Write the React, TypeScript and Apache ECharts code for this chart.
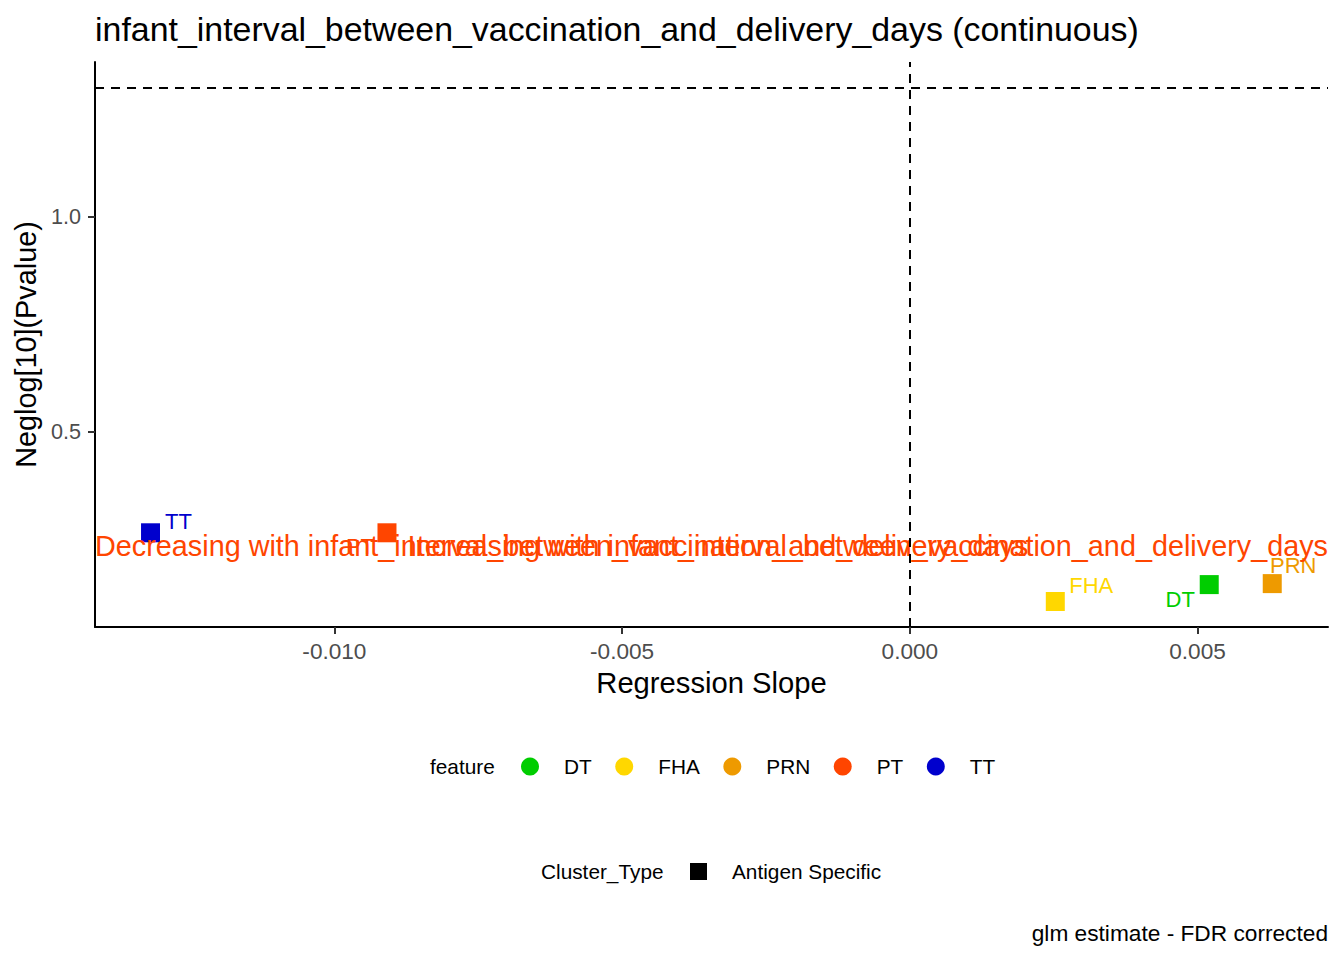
import React, { useEffect, useRef } from "react";
import * as echarts from "echarts";

const features = ["DT", "FHA", "PRN", "PT", "TT"];
const featureColors = ["#00CD00", "#FFD700", "#EE9A00", "#FF4500", "#0000CD"];
const slopes = [0.005203, 0.002528, 0.006298, -0.009086, -0.013195];
const neglogP = [0.1435, 0.1042, 0.1458, 0.264, 0.264];
const clusterTypes = ["Antigen Specific"];

const xTicks = [-0.01, -0.005, 0, 0.005];
const yTicks = [0.5, 1.0];
const xRange = [-0.01416, 0.007267];
const yRange = [0.0449, 1.3588];
const pThreshold = -Math.log10(0.05);
const annotationY = 0.2337;
const trendLabels = [
  "Decreasing with infant_interval_between_vaccination_and_delivery_days",
  "Increasing with infant_interval_between_vaccination_and_delivery_days",
];

// label placement (ggrepel-like), pixel offsets from point centre
const labelOffsets: Record<string, [number, number]> = {
  DT: [-29, 15],
  FHA: [36, -16],
  PRN: [21, -18.5],
  PT: [-27, 14],
  TT: [28, -11.5],
};

const FONT = "'Liberation Sans', Arial, sans-serif";

export default function App() {
  const ref = useRef<HTMLDivElement>(null);
  useEffect(() => {
    const chart = echarts.init(ref.current!, null, { renderer: "svg" });
    const pointSeries = features.map((f, i) => ({
      name: f,
      type: "scatter",
      symbol: "rect",
      symbolSize: 19,
      itemStyle: { color: featureColors[i], opacity: 1 },
      data: [
        {
          value: [slopes[i], neglogP[i]],
          name: f,
          label: {
            show: true,
            position: "inside",
            offset: labelOffsets[f],
            formatter: f,
            color: featureColors[i],
            fontSize: 22,
            fontFamily: FONT,
            align: "center",
            verticalAlign: "middle",
          },
        },
      ],
      z: 3,
    }));
    const option: any = {
      animation: false,
      backgroundColor: "#ffffff",
      textStyle: { fontFamily: FONT },
      title: [
        {
          text: "infant_interval_between_vaccination_and_delivery_days (continuous)",
          left: 95,
          top: 12,
          padding: 0,
          textStyle: { fontSize: 33.9, fontWeight: "normal", color: "#000", fontFamily: FONT },
        },
        {
          text: "glm estimate - FDR corrected",
          right: 16,
          top: 921,
          padding: 0,
          textStyle: { fontSize: 22.7, fontWeight: "normal", color: "#000", fontFamily: FONT },
        },
      ],
      grid: { left: 95, right: 16, top: 62, bottom: 333, containLabel: false },
      xAxis: {
        type: "value",
        min: xRange[0],
        max: xRange[1],
        name: "Regression Slope",
        nameLocation: "middle",
        nameGap: 41,
        nameTextStyle: { fontSize: 29.2, color: "#000", fontFamily: FONT },
        splitLine: { show: false },
        axisLine: { show: true, onZero: false, lineStyle: { color: "#000", width: 2 } },
        axisTick: { show: true, length: 7, customValues: xTicks, lineStyle: { color: "#333", width: 2 } },
        axisLabel: {
          customValues: xTicks,
          margin: 12.5,
          fontSize: 22.6,
          color: "#4D4D4D",
          fontFamily: FONT,
          formatter: (v: number) => v.toFixed(3),
        },
      },
      yAxis: {
        type: "value",
        min: yRange[0],
        max: yRange[1],
        name: "Neglog[10](Pvalue)",
        nameLocation: "middle",
        nameGap: 54,
        nameRotate: 90,
        nameTextStyle: { fontSize: 28.8, color: "#000", fontFamily: FONT },
        splitLine: { show: false },
        axisLine: { show: true, onZero: false, lineStyle: { color: "#000", width: 2 } },
        axisTick: { show: true, length: 7, customValues: yTicks, lineStyle: { color: "#333", width: 2 } },
        axisLabel: {
          customValues: yTicks,
          margin: 14,
          fontSize: 21.6,
          color: "#4D4D4D",
          fontFamily: FONT,
          formatter: (v: number) => v.toFixed(1),
        },
      },
      legend: [
        {
          data: features,
          orient: "horizontal",
          left: 521,
          top: 756,
          padding: 0,
          icon: "circle",
          itemWidth: 18,
          itemHeight: 18,
          itemGap: 23.5,
          selectedMode: false,
          itemStyle: { opacity: 1 },
          textStyle: { fontSize: 20.8, color: "#000", fontFamily: FONT, padding: [0, 0, 0, 20] },
        },
        {
          data: clusterTypes,
          orient: "horizontal",
          left: 690,
          top: 861,
          padding: 0,
          icon: "rect",
          itemWidth: 17,
          itemHeight: 17,
          selectedMode: false,
          itemStyle: { opacity: 1, color: "#000" },
          textStyle: { fontSize: 20.8, color: "#000", fontFamily: FONT, padding: [0, 0, 0, 20] },
        },
      ],
      graphic: [
        {
          type: "text",
          x: 430,
          y: 766,
          style: { text: "feature", fontSize: 20.8, fontFamily: FONT, fill: "#000", verticalAlign: "middle" },
        },
        {
          type: "text",
          x: 541,
          y: 871,
          style: { text: "Cluster_Type", fontSize: 20.8, fontFamily: FONT, fill: "#000", verticalAlign: "middle" },
        },
      ],
      series: [
        ...pointSeries,
        {
          name: "Antigen Specific",
          type: "scatter",
          symbol: "rect",
          itemStyle: { color: "#000", opacity: 1 },
          data: [],
        },
        {
          name: "annotations",
          type: "scatter",
          symbolSize: 0,
          silent: true,
          z: 4,
          itemStyle: { color: "#FF4500", opacity: 1 },
          data: [
            {
              value: [xRange[0], annotationY],
              name: trendLabels[0],
              label: { position: "right", distance: 0 },
            },
            {
              value: [xRange[1], annotationY],
              name: trendLabels[1],
              label: { position: "left", distance: 0 },
            },
          ],
          label: {
            show: true,
            formatter: (p: any) => p.name,
            color: "#FF4500",
            opacity: 1,
            fontSize: 28.8,
            fontFamily: FONT,
          },
          markLine: {
            silent: true,
            symbol: ["none", "none"],
            label: { show: false },
            lineStyle: { color: "#000", width: 2, type: [9, 7], opacity: 1 },
            data: [{ xAxis: 0 }, { yAxis: pThreshold }],
          },
        },
      ],
    };
    chart.setOption(option);
    return () => chart.dispose();
  }, []);
  return (
    <div
      ref={ref}
      style={{ position: "fixed", left: 0, top: 0, width: 1344, height: 960, background: "#fff" }}
    />
  );
}
